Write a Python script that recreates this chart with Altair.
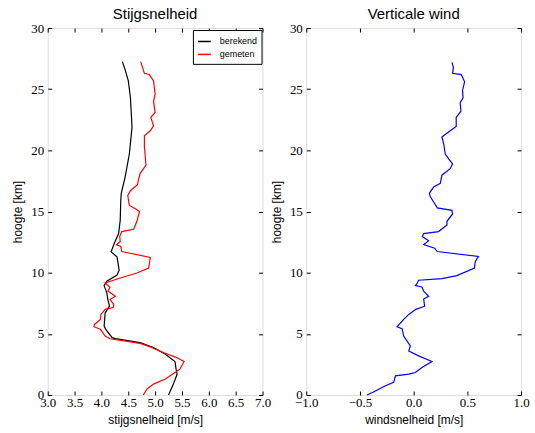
import altair as alt
import pandas as pd

# ---- data ----
ber_h = [0, 0.89, 1.71, 2.11, 2.74, 3.33, 3.88, 4.28, 4.61, 4.69, 5.36, 5.63, 6.72, 7.26,
         7.8, 8.35, 8.94, 9.3, 9.8, 10.2, 11.3, 11.7, 12.4, 13.2, 14.3, 15.9, 16.5, 17.8,
         19.7, 21.9, 24.3, 25.7, 26.6, 27.26]
ber_v = [5.25, 5.34, 5.41, 5.39, 5.37, 5.19, 4.97, 4.72, 4.26, 4.20, 4.08, 4.05, 4.07, 4.15,
         4.12, 4.10, 4.05, 4.10, 4.29, 4.33, 4.29, 4.18, 4.24, 4.32, 4.35, 4.36, 4.37, 4.44,
         4.52, 4.57, 4.54, 4.50, 4.44, 4.39]

gem_h = [0, 0.49, 0.89, 1.3, 1.84, 2.11, 2.74, 3.06, 3.47, 3.93, 4.22, 4.6, 4.82, 5.37,
         5.58, 5.77, 6.18, 6.59, 7.0, 7.15, 7.4, 7.8, 8.07, 8.5, 8.8, 9.16, 9.57, 9.97,
         10.38, 11.25, 11.73, 12.14, 12.28, 12.55, 12.95, 13.36, 13.55, 14.2, 15.0, 15.2,
         15.5, 16.3, 16.7, 17.2, 17.6, 18.1, 18.8, 20.3, 21.2, 21.6, 22.0, 22.7, 23.1,
         24.0, 24.6, 25.7, 26.2, 26.3, 27.26]
gem_v = [4.78, 4.85, 4.97, 5.19, 5.37, 5.46, 5.54, 5.40, 5.15, 4.91, 4.72, 4.16, 4.07, 3.98,
         3.86, 3.87, 3.98, 3.99, 4.07, 4.22, 4.23, 4.16, 4.26, 4.12, 4.16, 4.07, 4.35, 4.66,
         4.88, 4.91, 4.38, 4.36, 4.28, 4.35, 4.34, 4.38, 4.60, 4.66, 4.71, 4.64,
         4.52, 4.49, 4.54, 4.67, 4.69, 4.72, 4.83, 4.80, 4.80, 4.91, 4.97, 4.92, 5.00,
         4.97, 5.00, 4.97, 4.89, 4.80, 4.73]

wind_h = [0, 0.27, 0.76, 1.03, 1.57, 1.71, 1.84, 2.25, 2.74, 3.2, 3.6, 4.01, 4.82, 5.42,
          5.58, 6.18, 6.59, 7.0, 7.26, 7.85, 8.07, 8.48, 8.83, 8.94, 9.1, 9.38, 9.51, 9.76,
          10.38, 10.9, 11.33, 11.73, 12.0, 12.3, 12.6, 12.96, 13.2, 13.36, 13.9, 14.2, 14.8,
          15.1, 15.3, 15.7, 16.2, 16.5, 17.0, 17.3, 17.97, 18.5, 18.9, 19.3, 19.7, 20.5,
          21.1, 21.6, 21.95, 22.7, 23.2, 23.9, 24.3, 24.9, 25.6, 26.2, 26.3, 26.8, 27.2]
wind_v = [-0.434, -0.37, -0.263, -0.186, -0.17, -0.046, 0.016, 0.077, 0.17, 0.046, -0.046,
          -0.031, -0.093, -0.108, -0.155, -0.093, -0.046, 0.021, 0.102, 0.093, 0.139, 0.093,
          0.077, 0.016, 0.03, 0.046, 0.263, 0.402, 0.566, 0.573, 0.603, 0.22, 0.195, 0.093,
          0.139, 0.08, 0.093, 0.232, 0.31, 0.31, 0.362, 0.356, 0.22, 0.192, 0.155, 0.146,
          0.186, 0.248, 0.263, 0.34, 0.362, 0.325, 0.294, 0.28, 0.263, 0.34, 0.396, 0.396,
          0.44, 0.433, 0.46, 0.455, 0.474, 0.443, 0.362, 0.37, 0.356]

series = ["berekend", "gemeten"]
series_colors = ["#000000", "#ff0000"]
x_left_ticks = [3.0, 3.5, 4.0, 4.5, 5.0, 5.5, 6.0, 6.5, 7.0]
x_right_ticks = [-1.0, -0.5, 0.0, 0.5, 1.0]
y_ticks = [0, 5, 10, 15, 20, 25, 30]

df_left = pd.DataFrame({
    "v": ber_v + gem_v,
    "h": ber_h + gem_h,
    "serie": [series[0]] * len(ber_v) + [series[1]] * len(gem_v),
    "i": list(range(len(ber_v))) + list(range(len(gem_v))),
})
df_right = pd.DataFrame({"w": wind_v, "h": wind_h, "i": list(range(len(wind_v)))})

W, H = 216, 369
SANS = "Liberation Sans"
SERIF = "Liberation Serif"

tick_common = dict(tickSize=4, offset=-4, domain=False, grid=False,
                   tickColor="black", tickWidth=1)


def x_axis(title, vals):
    return alt.Axis(title=title, orient="bottom", format=".1f", values=vals,
                    labelFlush=False, labelFont=SERIF, labelFontSize=13, labelPadding=2,
                    labelColor="black", titleFont=SANS, titleFontSize=12,
                    titleFontWeight="normal", titleColor="black", titlePadding=5,
                    **tick_common)


def y_axis():
    return alt.Axis(title="hoogte [km]", orient="left", format="d", values=y_ticks,
                    labelFlush=False, labelFont=SERIF, labelFontSize=13, labelPadding=4,
                    labelColor="black", titleFont=SANS, titleFontSize=12,
                    titleFontWeight="normal", titleColor="black", titlePadding=6,
                    **tick_common)


def top_axis(vals):
    return alt.Axis(title=None, orient="top", labels=False, values=vals, **tick_common)


def right_axis():
    return alt.Axis(title=None, orient="right", labels=False, values=y_ticks, **tick_common)


def title(text):
    return alt.TitleParams(text=text, font=SANS, fontSize=15, fontWeight="normal",
                           color="black", offset=0)


ys = alt.Scale(domain=[0, 30], nice=False, zero=False)

# ---- left panel ----
xs_l = alt.Scale(domain=[3.0, 7.0], nice=False, zero=False)
lines_l = alt.Chart(df_left).mark_line(strokeWidth=1.2).encode(
    x=alt.X("v:Q", scale=xs_l, axis=x_axis("stijgsnelheid [m/s]", x_left_ticks)),
    y=alt.Y("h:Q", scale=ys, axis=y_axis()),
    color=alt.Color("serie:N", scale=alt.Scale(domain=series, range=series_colors),
                    legend=alt.Legend(title=None, orient="none", legendX=146, legendY=2,
                                      symbolType="stroke", symbolSize=169,
                                      symbolStrokeWidth=1.5, labelFont=SANS,
                                      labelFontSize=9, labelColor="black", labelOffset=8,
                                      padding=4, rowPadding=0, strokeColor="black",
                                      fillColor="white", cornerRadius=0)),
    order="i:Q",
)
frame_l = alt.Chart(df_left).mark_point(opacity=0).encode(
    x=alt.X("v:Q", scale=xs_l, axis=top_axis(x_left_ticks)),
    y=alt.Y("h:Q", scale=ys, axis=right_axis()),
)
left = alt.layer(lines_l, frame_l).resolve_axis(x="independent", y="independent").properties(
    width=W, height=H, title=title("Stijgsnelheid"))

# ---- right panel ----
xs_r = alt.Scale(domain=[-1.0, 1.0], nice=False, zero=False)
line_r = alt.Chart(df_right).mark_line(strokeWidth=1.2, color="#0000ff").encode(
    x=alt.X("w:Q", scale=xs_r, axis=x_axis("windsnelheid [m/s]", x_right_ticks)),
    y=alt.Y("h:Q", scale=ys, axis=y_axis()),
    order="i:Q",
)
frame_r = alt.Chart(df_right).mark_point(opacity=0).encode(
    x=alt.X("w:Q", scale=xs_r, axis=top_axis(x_right_ticks)),
    y=alt.Y("h:Q", scale=ys, axis=right_axis()),
)
right = alt.layer(line_r, frame_r).resolve_axis(x="independent", y="independent").properties(
    width=W, height=H, title=title("Verticale wind"))

chart = alt.hconcat(left, right, spacing=44, bounds="flush").resolve_legend(
    color="independent"
).properties(
    padding={"left": 11, "top": 5, "right": 5, "bottom": 5},
).configure_view(stroke="black", strokeWidth=1).configure(background="white")

chart.save("out.html", embed_options={"renderer": "svg", "actions": False})
